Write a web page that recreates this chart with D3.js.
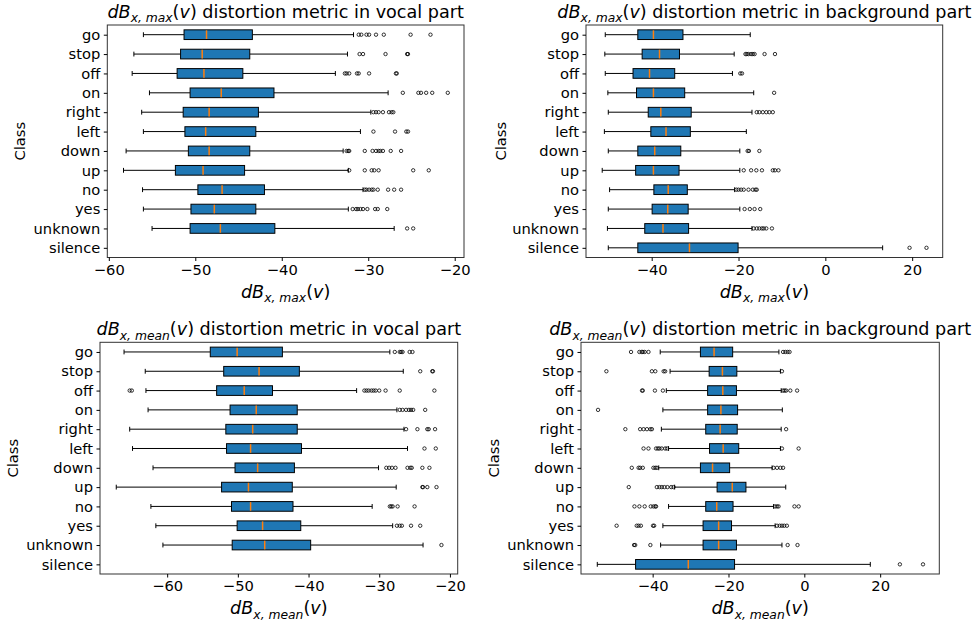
<!DOCTYPE html>
<html>
<head>
<meta charset="utf-8">
<script src="https://cdn.jsdelivr.net/npm/d3@7"></script>
<style>
  body { margin: 0; background: #fff; }
  text { font-family: "DejaVu Sans", sans-serif; white-space: pre; }
</style>
</head>
<body>
<div id="chart"></div>
<script>
// class names, top to bottom
const classes = ["go", "stop", "off", "on", "right", "left", "down", "up", "no", "yes", "unknown", "silence"];

// box stats per class: [lower whisker, Q1, median, Q3, upper whisker]
const vocalMaxBox = [
  [-56.0, -51.3, -48.7, -43.4, -31.7],
  [-57.1, -51.7, -49.2, -43.7, -32.4],
  [-57.3, -52.1, -49.0, -44.5, -33.8],
  [-55.3, -50.6, -47.0, -40.9, -27.7],
  [-56.2, -51.4, -48.4, -42.7, -29.7],
  [-56.0, -51.2, -48.8, -43.0, -30.9],
  [-58.0, -50.8, -48.4, -43.7, -32.9],
  [-58.3, -52.3, -49.1, -44.3, -32.3],
  [-56.1, -49.7, -46.9, -42.0, -30.6],
  [-56.0, -50.5, -47.8, -43.0, -32.3],
  [-55.0, -50.6, -47.1, -40.8, -27.0],
  null
];
const vocalMaxFliers = [
  [-31.1, -30.8, -30.2, -29.9, -29.1, -28.2, -25.1, -22.8],
  [-31.0, -30.6, -28.0, -25.5, -25.4],
  [-32.7, -32.5, -32.2, -31.3, -31.1, -29.9, -26.8, -26.7],
  [-26.0, -24.2, -23.9, -23.3, -22.6, -20.8],
  [-29.4, -29.1, -28.8, -28.3, -27.6, -27.3, -27.1],
  [-29.4, -26.9, -25.6, -25.4],
  [-32.5, -32.3, -32.2, -30.4, -29.5, -29.1, -28.8, -28.6, -28.3, -27.4, -26.2],
  [-32.2, -30.4, -29.6, -29.3, -28.8, -24.8, -23.0],
  [-30.4, -30.2, -29.9, -29.6, -29.4, -28.9, -27.7, -27.0, -26.2],
  [-31.8, -31.4, -31.2, -30.9, -30.6, -30.1, -29.2, -28.9, -27.8],
  [-25.5, -24.8],
  []
];
const vocalMaxTicks = [-60, -50, -40, -30, -20];

const bgMaxBox = [
  [-50.7, -43.2, -39.6, -32.8, -17.3],
  [-50.8, -42.2, -38.2, -33.6, -21.0],
  [-50.7, -44.3, -40.5, -34.7, -21.4],
  [-50.1, -43.5, -39.6, -32.4, -16.5],
  [-50.0, -40.8, -37.9, -30.9, -16.9],
  [-50.9, -40.2, -36.7, -31.1, -18.2],
  [-50.0, -43.2, -39.3, -33.3, -19.7],
  [-51.4, -43.7, -39.6, -33.7, -19.7],
  [-49.7, -39.5, -36.2, -31.8, -20.9],
  [-50.0, -39.9, -36.3, -31.6, -19.7],
  [-50.2, -41.6, -37.4, -31.5, -16.9],
  [-50.0, -43.2, -31.3, -20.1, 13.2]
];
const bgMaxFliers = [
  [],
  [-18.4, -18.1, -17.7, -17.1, -16.7, -16.3, -14.0, -11.6],
  [-19.6, -19.2],
  [-11.8],
  [-15.8, -15.2, -14.4, -13.6, -12.9, -12.1],
  [],
  [-17.9, -17.6, -15.2],
  [-18.8, -17.1, -15.9, -14.6, -12.1, -11.6, -10.8],
  [-20.5, -20.0, -19.4, -18.8, -17.7, -16.7, -16.1, -15.8],
  [-18.6, -17.4, -16.3, -15.0],
  [-16.5, -15.8, -15.2, -14.6, -14.2, -13.6, -12.3],
  [19.4, 23.3]
];
const bgMaxTicks = [-40, -20, 0, 20];

const vocalMeanBox = [
  [-66.1, -53.9, -50.1, -43.7, -28.5],
  [-63.1, -52.0, -47.0, -41.3, -26.6],
  [-63.0, -53.0, -49.1, -45.1, -33.2],
  [-62.7, -51.1, -47.4, -41.6, -27.5],
  [-65.3, -51.7, -47.9, -41.6, -26.5],
  [-64.9, -51.6, -48.2, -41.0, -26.0],
  [-62.0, -50.4, -47.2, -42.0, -30.1],
  [-67.2, -52.3, -48.5, -42.3, -27.6],
  [-62.3, -50.9, -48.2, -42.2, -31.0],
  [-61.6, -50.1, -46.5, -41.1, -28.1],
  [-60.6, -50.8, -46.2, -39.7, -23.8],
  null
];
const vocalMeanFliers = [
  [-27.8, -27.1, -26.9, -26.7, -25.7, -25.3],
  [-24.2, -22.5, -22.4],
  [-65.3, -65.0, -32.1, -31.8, -31.5, -31.1, -30.8, -30.5, -30.0, -29.1, -27.1, -22.2],
  [-27.1, -26.7, -26.2, -25.8, -25.5, -25.2, -23.5],
  [-26.2, -24.6, -23.2, -23.0, -22.1],
  [-23.6, -22.0],
  [-29.0, -28.6, -28.2, -27.7, -26.0, -25.6, -25.4, -23.9, -22.9],
  [-23.9, -23.8, -23.2, -21.9],
  [-28.5, -28.3, -28.1, -27.4, -25.0],
  [-27.5, -27.1, -26.8, -25.5, -24.2],
  [-21.2],
  []
];
const vocalMeanTicks = [-60, -50, -40, -30, -20];

const bgMeanBox = [
  [-38.0, -27.4, -23.8, -18.9, -6.7],
  [-35.4, -25.1, -21.6, -17.8, -6.3],
  [-36.4, -25.5, -21.5, -17.9, -6.1],
  [-37.3, -25.5, -22.0, -17.6, -5.8],
  [-37.7, -26.0, -22.2, -17.7, -6.1],
  [-35.8, -25.0, -21.4, -17.3, -6.3],
  [-38.4, -27.4, -24.2, -19.7, -8.5],
  [-34.2, -23.0, -19.0, -15.4, -4.9],
  [-35.8, -26.0, -23.1, -18.8, -8.1],
  [-37.3, -26.7, -22.6, -19.2, -7.7],
  [-37.9, -26.7, -22.6, -17.9, -5.9],
  [-54.6, -44.5, -30.6, -18.4, 17.4]
];
const bgMeanFliers = [
  [-45.7, -43.5, -42.9, -42.6, -42.1, -41.1, -5.6, -5.0, -4.4, -3.9],
  [-52.2, -40.2, -39.3, -37.1, -36.7, -5.9],
  [-42.8, -42.6, -39.4, -37.3, -5.6, -5.2, -4.8, -3.7, -1.9],
  [-54.4],
  [-47.2, -43.3, -42.4, -41.5, -40.6, -40.2, -4.8],
  [-42.4, -41.1, -39.1, -38.6, -38.2, -37.6, -36.7, -36.2, -5.9, -1.5],
  [-45.5, -43.7, -43.3, -42.6, -39.8, -39.3, -38.9, -8.1, -7.2, -6.3, -5.6],
  [-46.3, -38.9, -38.2, -37.6, -36.9, -36.1, -35.1, -34.5],
  [-44.8, -43.5, -42.1, -40.5, -39.8, -39.3, -39.1, -7.7, -7.2, -6.8, -2.6, -1.5],
  [-49.5, -44.2, -43.7, -43.1, -39.9, -39.6, -7.2, -6.5, -5.9, -5.3, -4.6],
  [-44.9, -44.6, -40.6, -4.4, -1.8],
  [25.2, 31.3]
];
const bgMeanTicks = [-40, -20, 0, 20];

// layout of the four axes frames
const panels = [
  {box: vocalMaxBox, fliers: vocalMaxFliers, ticks: vocalMaxTicks, sub: "x, max", part: "vocal",
   left: 107.3, top: 25, width: 356.7, height: 232.5, ylabelX: 20},
  {box: bgMaxBox, fliers: bgMaxFliers, ticks: bgMaxTicks, sub: "x, max", part: "background",
   left: 586, top: 25, width: 356.7, height: 232.5, ylabelX: 501},
  {box: vocalMeanBox, fliers: vocalMeanFliers, ticks: vocalMeanTicks, sub: "x, mean", part: "vocal",
   left: 100, top: 342.3, width: 357.7, height: 231.7, ylabelX: 12.5},
  {box: bgMeanBox, fliers: bgMeanFliers, ticks: bgMeanTicks, sub: "x, mean", part: "background",
   left: 581, top: 342.3, width: 358.3, height: 231.7, ylabelX: 494}
];

const W = 979, H = 622;
const tickSize = 14.7;
const titleSize = 17.6;

const svg = d3.select("#chart").append("svg")
  .attr("width", W)
  .attr("height", H);

/*mathLabel: writes dB_{sub}(v) followed by the rest of the text
*Parameters:
*   text selection, subscript, trailing text, font size
*/
function mathLabel(text, sub, rest, size) {
  text.attr("font-size", size);
  text.append("tspan").attr("font-style", "italic").text("dB");
  text.append("tspan").attr("font-style", "italic")
      .attr("font-size", size * 0.7)
      .attr("dy", size * 0.24)
      .text(sub);
  text.append("tspan").attr("dy", -size * 0.24).text("(");
  text.append("tspan").attr("font-style", "italic").text("v");
  text.append("tspan").text(")" + rest);
}

panels.forEach(function(p) {
  // x domain like matplotlib: data extent with 5% margin
  let allVals = [];
  p.box.forEach(function(b) { if (b) allVals = allVals.concat(b); });
  p.fliers.forEach(function(f) { allVals = allVals.concat(f); });
  let ext = d3.extent(allVals);
  let pad = (ext[1] - ext[0]) * 0.05;

  let x = d3.scaleLinear()
            .domain([ext[0] - pad, ext[1] + pad])
            .range([0, p.width]);
  let y = d3.scalePoint()
            .domain(classes)
            .range([0, p.height])
            .padding(0.5);
  let boxH = y.step() * 0.5;
  let capH = boxH * 0.5;

  let g = svg.append("g")
             .attr("transform", "translate(" + p.left + "," + p.top + ")");

  // boxes
  classes.forEach(function(c, i) {
    let b = p.box[i];
    let cy = y(c);
    if (b) {
      let row = g.append("g");
      row.append("line")
         .attr("x1", x(b[0])).attr("x2", x(b[1]))
         .attr("y1", cy).attr("y2", cy)
         .attr("stroke", "#000").attr("stroke-width", 1);
      row.append("line")
         .attr("x1", x(b[3])).attr("x2", x(b[4]))
         .attr("y1", cy).attr("y2", cy)
         .attr("stroke", "#000").attr("stroke-width", 1);
      [b[0], b[4]].forEach(function(v) {
        row.append("line")
           .attr("x1", x(v)).attr("x2", x(v))
           .attr("y1", cy - capH / 2).attr("y2", cy + capH / 2)
           .attr("stroke", "#000").attr("stroke-width", 1);
      });
      row.append("rect")
         .attr("x", x(b[1]))
         .attr("y", cy - boxH / 2)
         .attr("width", x(b[3]) - x(b[1]))
         .attr("height", boxH)
         .attr("fill", "#1f77b4")
         .attr("stroke", "#000")
         .attr("stroke-width", 1);
      row.append("line")
         .attr("x1", x(b[2])).attr("x2", x(b[2]))
         .attr("y1", cy - boxH / 2 + 0.5).attr("y2", cy + boxH / 2 - 0.5)
         .attr("stroke", "#ff7f0e").attr("stroke-width", 1.5);
    }
    g.selectAll(null)
     .data(p.fliers[i])
     .enter()
     .append("circle")
     .attr("cx", function(d) { return x(d); })
     .attr("cy", cy)
     .attr("r", 1.7)
     .attr("fill", "none")
     .attr("stroke", "#000")
     .attr("stroke-width", 0.8);
  });

  // frame
  g.append("rect")
   .attr("width", p.width)
   .attr("height", p.height)
   .attr("fill", "none")
   .attr("stroke", "#333")
   .attr("stroke-width", 1);

  // x axis
  let xAxis = g.append("g")
               .attr("transform", "translate(0," + p.height + ")")
               .call(d3.axisBottom(x)
                       .tickValues(p.ticks)
                       .tickSize(3.5)
                       .tickPadding(3.5)
                       .tickFormat(d3.format("d")));
  xAxis.select(".domain").remove();
  xAxis.selectAll("text")
       .attr("font-size", tickSize)
       .attr("fill", "#000")
       .attr("font-family", "DejaVu Sans");
  xAxis.selectAll("line").attr("stroke", "#000");

  // y axis
  let yAxis = g.append("g")
               .call(d3.axisLeft(y).tickSize(3.5).tickPadding(3.5));
  yAxis.select(".domain").remove();
  yAxis.selectAll("text")
       .attr("font-size", tickSize)
       .attr("fill", "#000")
       .attr("font-family", "DejaVu Sans");
  yAxis.selectAll("line").attr("stroke", "#000");

  // title
  let title = g.append("text")
               .attr("x", p.width / 2)
               .attr("y", -7)
               .attr("text-anchor", "middle")
               .attr("fill", "#000");
  mathLabel(title, p.sub, " distortion metric in " + p.part + " part", titleSize);

  // x label
  let xl = g.append("text")
            .attr("x", p.width / 2)
            .attr("y", p.height + 40.5)
            .attr("text-anchor", "middle")
            .attr("fill", "#000");
  mathLabel(xl, p.sub, "", titleSize);

  // y label
  svg.append("text")
     .attr("transform", "translate(" + p.ylabelX + "," + (p.top + p.height / 2) + ") rotate(-90)")
     .attr("text-anchor", "middle")
     .attr("dy", "0.35em")
     .attr("font-size", tickSize)
     .attr("fill", "#000")
     .text("Class");
});
</script>
</body>
</html>
